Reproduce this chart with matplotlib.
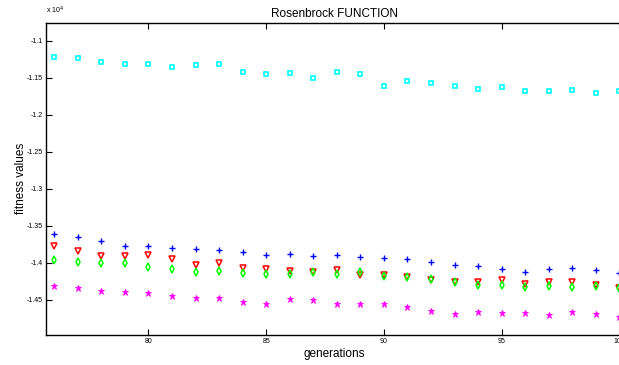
import numpy as np
import matplotlib
matplotlib.use("Agg")
import matplotlib.pyplot as plt
from matplotlib.ticker import FuncFormatter

plt.rcParams["font.family"] = ["Liberation Sans", "DejaVu Sans"]

generations = np.arange(76, 101)

# fitness values (x 10^4)
cyan_sq = [-1.1211, -1.1229, -1.1283, -1.1306, -1.1306, -1.1346, -1.1319, -1.1306, -1.1427,
           -1.1444, -1.1440, -1.1498, -1.1427, -1.1444, -1.1606, -1.1548, -1.1569, -1.1615,
           -1.1650, -1.1629, -1.1682, -1.1673, -1.1669, -1.1700, -1.1682]
blue_plus = [-1.3612, -1.3649, -1.3707, -1.3766, -1.3766, -1.3793, -1.3815, -1.3824, -1.3847,
             -1.3892, -1.3874, -1.3905, -1.3892, -1.3919, -1.3932, -1.3946, -1.3986, -1.4023,
             -1.4045, -1.4081, -1.4122, -1.4081, -1.4072, -1.4091, -1.4139]
red_tri = [-1.3770, -1.3838, -1.3905, -1.3905, -1.3892, -1.3950, -1.4027, -1.4000, -1.4064,
           -1.4077, -1.4108, -1.4122, -1.4091, -1.4158, -1.4166, -1.4193, -1.4234, -1.4257,
           -1.4253, -1.4230, -1.4288, -1.4253, -1.4253, -1.4301, -1.4338]
green_dia = [-1.3964, -1.3986, -1.4000, -1.4000, -1.4058, -1.4081, -1.4118, -1.4104, -1.4131,
             -1.4149, -1.4149, -1.4128, -1.4153, -1.4122, -1.4172, -1.4193, -1.4212, -1.4257,
             -1.4293, -1.4301, -1.4328, -1.4311, -1.4328, -1.4307, -1.4342]
magenta_star = [-1.4307, -1.4342, -1.4374, -1.4392, -1.4409, -1.4450, -1.4473, -1.4469, -1.4523,
                -1.4550, -1.4486, -1.4507, -1.4550, -1.4550, -1.4554, -1.4591, -1.4653, -1.4689,
                -1.4658, -1.4676, -1.4676, -1.4699, -1.4666, -1.4689, -1.4726]

scale = 1e4

fig = plt.figure(figsize=(6.19, 3.65), dpi=100)
# the right edge of the axes runs just past the figure, as in the original
ax = fig.add_axes([46.3 / 619, 1 - 335 / 365, 575.5 / 619, 312.3 / 365])

ax.plot(generations, np.array(cyan_sq) * scale, "s", color="cyan", mfc="none", ms=3.3, mew=1.2)
ax.plot(generations, np.array(blue_plus) * scale, "+", color="blue", ms=5, mew=1)
ax.plot(generations, np.array(red_tri) * scale, "v", color="red", mfc="none", ms=4, mew=1.1)
ax.plot(generations, np.array(green_dia) * scale, "d", color="#00ff00", mfc="none", ms=4, mew=1.1)
ax.plot(generations, np.array(magenta_star) * scale, "*", color="magenta", ms=5, mew=0.6)

ax.set_xlim(75.665, 100.1)
ax.set_ylim(-1.4975 * scale, -1.0754 * scale)
ax.set_xticks([80, 85, 90, 95, 100])
ax.set_yticks(np.arange(-1.45, -1.09, 0.05) * scale)
ax.yaxis.set_major_formatter(FuncFormatter(lambda v, p: f"{v / scale:g}"))

ax.tick_params(direction="in", top=True, right=False, length=4.5, width=0.8,
               labelsize=5, pad=2.5)
for s in ax.spines.values():
    s.set_linewidth(1)

ax.set_title("Rosenbrock FUNCTION", fontsize=8.5, pad=4)
ax.set_xlabel("generations", fontsize=8.5, labelpad=2)
ax.set_ylabel("fitness values", fontsize=8.5, labelpad=0)
ax.text(0.0, 1.02, "x 10$^4$", transform=ax.transAxes, fontsize=5, va="bottom", ha="left")

fig.savefig("out.png", dpi=100)
